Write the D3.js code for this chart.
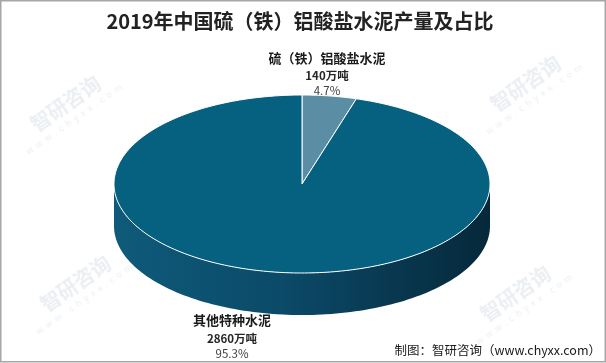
<!DOCTYPE html>
<html>
<head>
<meta charset="utf-8">
<script src="https://cdn.jsdelivr.net/npm/d3@7"></script>
<style>
  html, body { margin: 0; padding: 0; background: #fff; }
  svg { display: block; font-family: "Noto Sans CJK SC", "Noto Sans", sans-serif; }
</style>
</head>
<body>
<svg id="chart"></svg>
<script>
  const categories = ['硫（铁）铝酸盐水泥', '其他特种水泥']
  const values = [140, 2860]
  const shares = ['4.7%', '95.3%']
  const valueLabels = ['140万吨', '2860万吨']

  const width = 606
  const height = 363

  const svg = d3.select('#chart')
    .attr('width', width)
    .attr('height', height)

  // 3d pie geometry
  const cx = 302, cy = 184, rx = 188, ry = 89, depth = 42

  const defs = svg.append('defs')
  const grad = defs.append('linearGradient')
    .attr('id', 'sideGrad')
    .attr('x1', '0%').attr('x2', '100%').attr('y1', '0%').attr('y2', '0%')
  grad.append('stop').attr('offset', '0%').attr('stop-color', '#0f5a7a')
  grad.append('stop').attr('offset', '45%').attr('stop-color', '#0b4a68')
  grad.append('stop').attr('offset', '100%').attr('stop-color', '#06283a')

  // faint watermarks
  const wm = svg.append('g').attr('fill', '#d6dee6').attr('opacity', 0.5)
  const wmPos = [[70, 110], [530, 90], [80, 290], [520, 300]]
  wmPos.forEach(p => {
    const t = wm.append('g').attr('transform', `translate(${p[0]},${p[1]}) rotate(-35)`)
    t.append('text').attr('font-size', 20).attr('font-weight', 'bold').attr('text-anchor', 'middle').text('智研咨询')
    t.append('text').attr('font-size', 9).attr('y', 13).attr('text-anchor', 'middle').attr('letter-spacing', 4).text('www.chyxx.com')
  })

  const pie = d3.pie().sort(null).value(d => d)
  const arcs = pie(values)

  function pt(a, dy) {
    return [cx + rx * Math.sin(a), cy + (dy || 0) - ry * Math.cos(a)]
  }

  function sectorPath(a0, a1) {
    const n = Math.max(2, Math.ceil((a1 - a0) / 0.02))
    const p = d3.path()
    p.moveTo(cx, cy)
    for (let i = 0; i <= n; i++) {
      const q = pt(a0 + (a1 - a0) * i / n)
      p.lineTo(q[0], q[1])
    }
    p.closePath()
    return p.toString()
  }

  // side wall (front half of ellipse)
  const side = d3.path()
  const steps = 120
  for (let i = 0; i <= steps; i++) {
    const a = Math.PI / 2 + Math.PI * i / steps
    const q = pt(a)
    if (i === 0) side.moveTo(q[0], q[1]); else side.lineTo(q[0], q[1])
  }
  for (let i = steps; i >= 0; i--) {
    const a = Math.PI / 2 + Math.PI * i / steps
    const q = pt(a, depth)
    side.lineTo(q[0], q[1])
  }
  side.closePath()

  svg.append('path')
    .attr('d', side.toString())
    .attr('fill', 'url(#sideGrad)')

  const colors = ['#5b8ea4', '#06607f']

  svg.append('g')
    .selectAll('path')
    .data(arcs)
    .enter()
    .append('path')
    .attr('d', d => sectorPath(d.startAngle, d.endAngle))
    .attr('fill', (d, i) => colors[i])
    .attr('stroke', '#ffffff')
    .attr('stroke-width', 1)
    .attr('stroke-linejoin', 'round')

  // labels
  const labelPos = [[327, 63], [232, 325]]
  const lbl = svg.append('g').attr('text-anchor', 'middle')
  categories.forEach((c, i) => {
    const g = lbl.append('g').attr('transform', `translate(${labelPos[i][0]},${labelPos[i][1]})`)
    g.append('text').attr('font-size', 13).attr('font-weight', 'bold').attr('fill', '#1a1a1a').text(c)
    g.append('text').attr('y', i === 0 ? 17 : 18).attr('font-size', 11.5).attr('font-weight', 'bold').attr('fill', '#262626').text(valueLabels[i])
    g.append('text').attr('y', i === 0 ? 32 : 33).attr('font-size', 11.5).attr('fill', '#404040').text(shares[i])
  })

  // title
  svg.append('text')
    .attr('x', 300)
    .attr('y', 29)
    .attr('text-anchor', 'middle')
    .attr('font-size', 20)
    .attr('font-weight', 'bold')
    .attr('fill', '#222')
    .text('2019年中国硫（铁）铝酸盐水泥产量及占比')

  // source
  svg.append('text')
    .attr('x', 601)
    .attr('y', 355)
    .attr('text-anchor', 'end')
    .attr('font-size', 12.5)
    .attr('fill', '#1a1a1a')
    .text('制图：智研咨询（www.chyxx.com）')

  // frame
  svg.append('rect')
    .attr('x', 0.75).attr('y', 0.75)
    .attr('width', width - 1.5).attr('height', height - 2)
    .attr('fill', 'none')
    .attr('stroke', '#a6a6a6')
    .attr('stroke-width', 1.5)
</script>
</body>
</html>
